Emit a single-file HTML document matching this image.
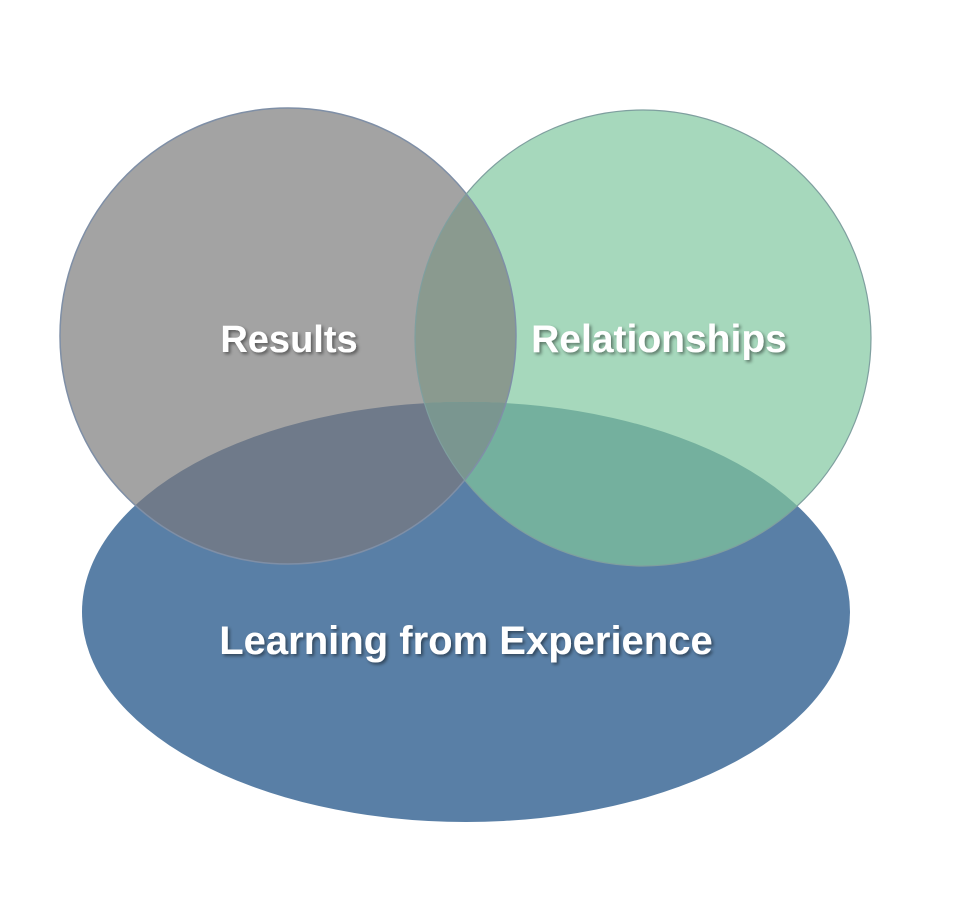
<!DOCTYPE html>
<html><head><meta charset="utf-8"><style>
html,body{margin:0;padding:0;background:#fff;}
svg{display:block}
text{font-family:"Liberation Sans",sans-serif;font-weight:bold;fill:#fff;text-anchor:middle;}
</style></head><body>
<svg width="959" height="920" viewBox="0 0 959 920" xmlns="http://www.w3.org/2000/svg">
<defs>
<clipPath id="cg"><circle cx="288" cy="336" r="228"/></clipPath>
<clipPath id="cr"><circle cx="643" cy="338" r="228"/></clipPath>
<clipPath id="ce"><ellipse cx="466" cy="612" rx="384" ry="210"/></clipPath>
<filter id="sh" x="-10%" y="-30%" width="120%" height="160%"><feDropShadow dx="2" dy="2" stdDeviation="1.5" flood-color="#000" flood-opacity="0.45"/></filter>
</defs>
<ellipse cx="466" cy="612" rx="384" ry="210" fill="#597fa6"/>
<circle cx="288" cy="336" r="228" fill="#a3a3a3"/>
<circle cx="643" cy="338" r="228" fill="#a6d8bc"/>
<g clip-path="url(#cg)"><circle cx="643" cy="338" r="228" fill="#8a9a8f"/></g>
<g clip-path="url(#ce)"><circle cx="288" cy="336" r="228" fill="#6f7a8a"/></g>
<g clip-path="url(#ce)"><circle cx="643" cy="338" r="228" fill="#74b09e"/></g>
<g clip-path="url(#ce)"><g clip-path="url(#cg)"><circle cx="643" cy="338" r="228" fill="#7a9690"/></g></g>
<circle cx="288" cy="336" r="228" fill="none" stroke="#7f8fa6" stroke-width="1.5"/>
<circle cx="643" cy="338" r="228" fill="none" stroke="#7f9f9f" stroke-width="1.2"/>
<g filter="url(#sh)">
<text x="289" y="352" font-size="38">Results</text>
<text x="659" y="352" font-size="39">Relationships</text>
<text x="466" y="654" font-size="40">Learning from Experience</text>
</g>
</svg>
</body></html>
